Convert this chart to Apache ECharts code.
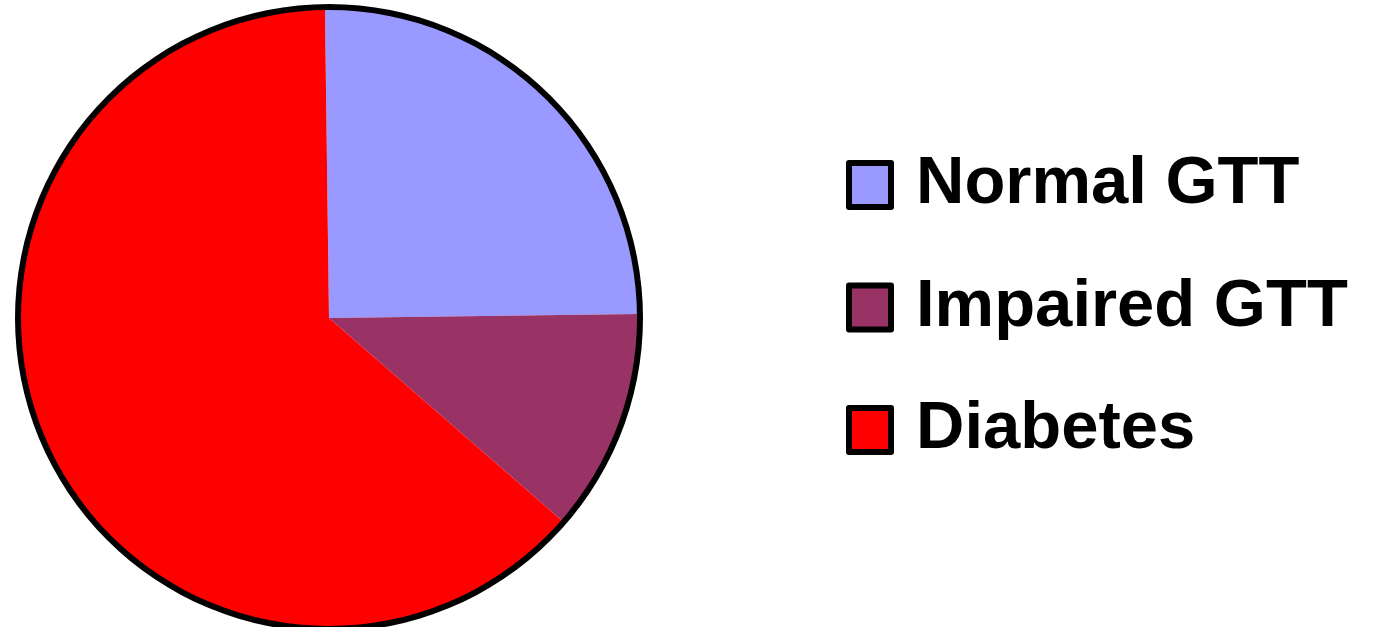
<!DOCTYPE html>
<html>
<head>
<meta charset="utf-8">
<script src="https://cdn.jsdelivr.net/npm/echarts@6/dist/echarts.min.js"></script>
<style>
html,body{margin:0;padding:0;background:#fff;}
#chart{width:1393px;height:627px;}
</style>
</head>
<body>
<div id="chart"></div>
<script>
const categories = ['Normal GTT', 'Impaired GTT', 'Diabetes'];
const values = [25, 11.6, 63.4];
const colors = ['#9999FF', '#993366', '#FF0000'];

const chart = echarts.init(document.getElementById('chart'), null, {renderer: 'canvas'});
const center = [329, 318];
chart.setOption({
  animation: false,
  backgroundColor: '#ffffff',
  legend: {
    data: categories,
    orient: 'vertical',
    left: 846,
    top: 145,
    padding: 0,
    itemWidth: 42,
    itemHeight: 44,
    itemGap: 42.5,
    icon: 'rect',
    itemStyle: {borderColor: '#000', borderWidth: 6},
    textStyle: {
      fontFamily: 'Liberation Sans, Arial, sans-serif',
      fontWeight: 'bold',
      fontSize: 67,
      lineHeight: 80,
      color: '#000',
      padding: [0, 0, 0, 20]
    },
    selectedMode: false
  },
  series: [
    {
      type: 'pie',
      center: center,
      radius: [0, 309],
      startAngle: 90.75,
      clockwise: true,
      label: {show: false},
      labelLine: {show: false},
      silent: true,
      itemStyle: {borderWidth: 0},
      data: categories.map((c, i) => ({name: c, value: values[i], itemStyle: {color: colors[i]}}))
    },
    {
      type: 'pie',
      center: center,
      radius: [308, 314],
      silent: true,
      label: {show: false},
      labelLine: {show: false},
      itemStyle: {color: '#000', borderWidth: 0},
      data: [{name: 'outline', value: 1}]
    }
  ]
});
</script>
</body>
</html>
